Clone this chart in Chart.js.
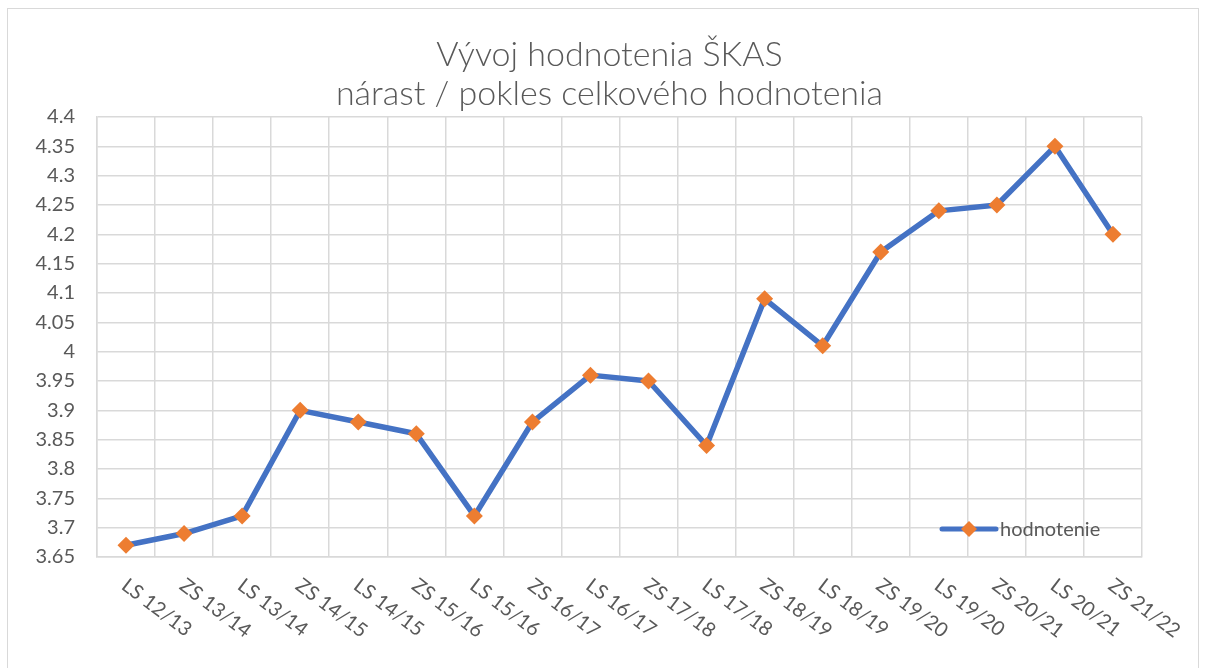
<!DOCTYPE html>
<html>
<head>
<meta charset="utf-8">
<script src="https://cdn.jsdelivr.net/npm/chart.js@4"></script>
<style>
html,body{margin:0;padding:0;background:#fff;overflow:hidden;}
#wrap{position:relative;width:1206px;height:668px;}
#frame{position:absolute;left:7px;top:8px;width:1192px;height:700px;border:1.5px solid #d9d9d9;box-sizing:border-box;}
canvas{position:absolute;left:0;top:0;}
</style>
</head>
<body>
<div id="wrap"><div id="frame"></div><canvas id="c" width="1206" height="668"></canvas></div>
<script>
const categories = ["LS 12/13","ZS 13/14","LS 13/14","ZS 14/15","LS 14/15","ZS 15/16","LS 15/16","ZS 16/17","LS 16/17","ZS 17/18","LS 17/18","ZS 18/19","LS 18/19","ZS 19/20","LS 19/20","ZS 20/21","LS 20/21","ZS 21/22"];
const values = [3.67,3.69,3.72,3.90,3.88,3.86,3.72,3.88,3.96,3.95,3.84,4.09,4.01,4.17,4.24,4.25,4.35,4.20];
const seriesName = "hodnotenie";
const titleLines = ["Vývoj hodnotenia ŠKAS","nárast / pokles celkového hodnotenia"];
const yMin = 3.65, yMax = 4.4, yStep = 0.05;

const FONT = "Lato";
const TXT = "#595959";
const GRID = "#d9d9d9";
const BLUE = "#4472C4";
const ORANGE = "#ED7D31";

const titlePlugin = {
  id: 'customTitle',
  afterDraw(chart) {
    const ctx = chart.ctx, area = chart.chartArea;
    const cx = (area.left + area.right) / 2 - 10;
    ctx.save();
    ctx.fillStyle = TXT;
    ctx.font = "300 34px " + FONT;
    ctx.textAlign = "center";
    ctx.textBaseline = "alphabetic";
    titleLines.forEach((t, i) => ctx.fillText(t, cx, area.top - 51 + i * 39));
    ctx.restore();
  }
};

const xLabelsPlugin = {
  id: 'xLabels',
  afterDraw(chart) {
    const ctx = chart.ctx, xs = chart.scales.x, area = chart.chartArea;
    ctx.save();
    ctx.fillStyle = TXT;
    ctx.font = "20px " + FONT;
    ctx.textAlign = "left";
    ctx.textBaseline = "middle";
    categories.forEach((lab, i) => {
      const px = xs.getPixelForValue(i);
      ctx.save();
      ctx.translate(px - 2, area.bottom + 26);
      ctx.rotate(37 * Math.PI / 180);
      ctx.fillText(lab, 0, 0);
      ctx.restore();
    });
    ctx.restore();
  }
};

const legendPlugin = {
  id: 'innerLegend',
  afterDraw(chart) {
    const ctx = chart.ctx, area = chart.chartArea;
    const ds = chart.data.datasets[0];
    const y = area.bottom - 28;
    const x0 = area.right - 200, x1 = x0 + 54;
    ctx.save();
    ctx.strokeStyle = BLUE; ctx.lineWidth = 5; ctx.lineCap = "round";
    ctx.beginPath(); ctx.moveTo(x0, y); ctx.lineTo(x1, y); ctx.stroke();
    const mx = (x0 + x1) / 2, r = 8;
    ctx.fillStyle = ORANGE;
    ctx.beginPath(); ctx.moveTo(mx, y - r); ctx.lineTo(mx + r, y); ctx.lineTo(mx, y + r); ctx.lineTo(mx - r, y); ctx.closePath(); ctx.fill();
    ctx.fillStyle = TXT; ctx.font = "20px " + FONT; ctx.textAlign = "left"; ctx.textBaseline = "middle";
    ctx.fillText(ds.label, x1 + 4, y + 1);
    ctx.restore();
  }
};

new Chart(document.getElementById('c'), {
  type: 'line',
  data: {
    labels: categories,
    datasets: [{
      label: seriesName,
      data: values,
      borderColor: BLUE,
      borderWidth: 5.5,
      tension: 0,
      borderCapStyle: 'round',
      borderJoinStyle: 'round',
      pointStyle: 'rectRot',
      pointRadius: 8.5,
      pointHoverRadius: 8.5,
      pointBackgroundColor: ORANGE,
      pointBorderColor: ORANGE,
      pointBorderWidth: 0,
      fill: false
    }]
  },
  options: {
    responsive: false,
    animation: false,
    events: [],
    layout: { padding: { left: 0, right: 64, top: 117, bottom: 0 } },
    plugins: {
      legend: { display: false },
      tooltip: { enabled: false },
      title: { display: false }
    },
    scales: {
      x: {
        offset: true,
        grid: { offset: true, color: GRID, lineWidth: 1.5, drawTicks: false },
        border: { color: GRID, width: 1.5 },
        ticks: { display: false },
        afterFit(s) { s.height = 111; }
      },
      y: {
        min: yMin, max: yMax,
        grid: { color: GRID, lineWidth: 1.5, drawTicks: false },
        border: { color: GRID, width: 1.5 },
        ticks: {
          stepSize: yStep,
          color: TXT,
          padding: 22,
          font: { family: FONT, size: 20 },
          callback: v => String(+(+v).toFixed(2))
        },
        afterFit(s) { s.width = 97; }
      }
    }
  },
  plugins: [titlePlugin, xLabelsPlugin, legendPlugin]
});
</script>
</body>
</html>
